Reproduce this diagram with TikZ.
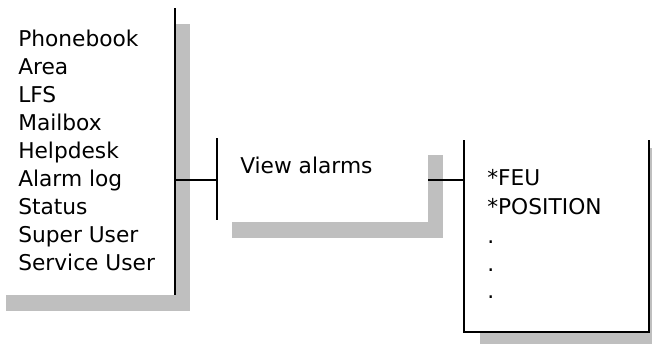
\documentclass[tikz,border=0pt]{standalone}
\usepackage{fontspec}
\setmainfont{DejaVu Sans}
\tikzset{shade box/.style={fill=black!25,draw=none},
  edge line/.style={line width=1.2pt},
  item/.style={anchor=base west,inner sep=0pt,font=\fontsize{16.3}{19}\selectfont}}
\begin{document}
\begin{tikzpicture}[x=0.75pt,y=-0.75pt]
\useasboundingbox (0,0) rectangle (652,343);
\fill[shade box] (6,24) rectangle (190,311);
\fill[white] (-10,8) rectangle (175,295);
\draw[edge line] (175,8) -- (175,295);
\fill[shade box] (232,155) rectangle (443,238);
\fill[white] (217,138) rectangle (428,222);
\draw[edge line] (217,138) -- (217,220);
\fill[shade box] (480,148) rectangle (670,350);
\fill[white] (464,140) rectangle (649,332);
\draw[edge line] (464,140) -- (464,332) -- (649,332) -- (649,140);
\node[item] (phonebook) at (18,46) {Phonebook};
\node[item] (area) at (18,74) {Area};
\node[item] (lfs) at (18,102) {LFS};
\node[item] (mailbox) at (18,130) {Mailbox};
\node[item] (helpdesk) at (18,158) {Helpdesk};
\node[item] (alarmlog) at (18,186) {Alarm log};
\node[item] (status) at (18,214) {Status};
\node[item] (superuser) at (18,242) {Super User};
\node[item] (serviceuser) at (18,270) {Service User};
\node[item] (viewalarms) at (240,173) {View alarms};
\node[item] (feu) at (487,185) {*FEU};
\node[item] (position) at (487,214) {*POSITION};
\node[item] (dotA) at (487,243) {.};
\node[item] (dotB) at (487,271) {.};
\node[item] (dotC) at (487,298) {.};
\coordinate (menu) at (175,180);
\coordinate (viewin) at (217,180);
\coordinate (viewout) at (428,180);
\coordinate (detin) at (464,180);
\draw[edge line] (menu) -- (viewin);
\draw[edge line] (viewout) -- (detin);
\end{tikzpicture}
\end{document}
